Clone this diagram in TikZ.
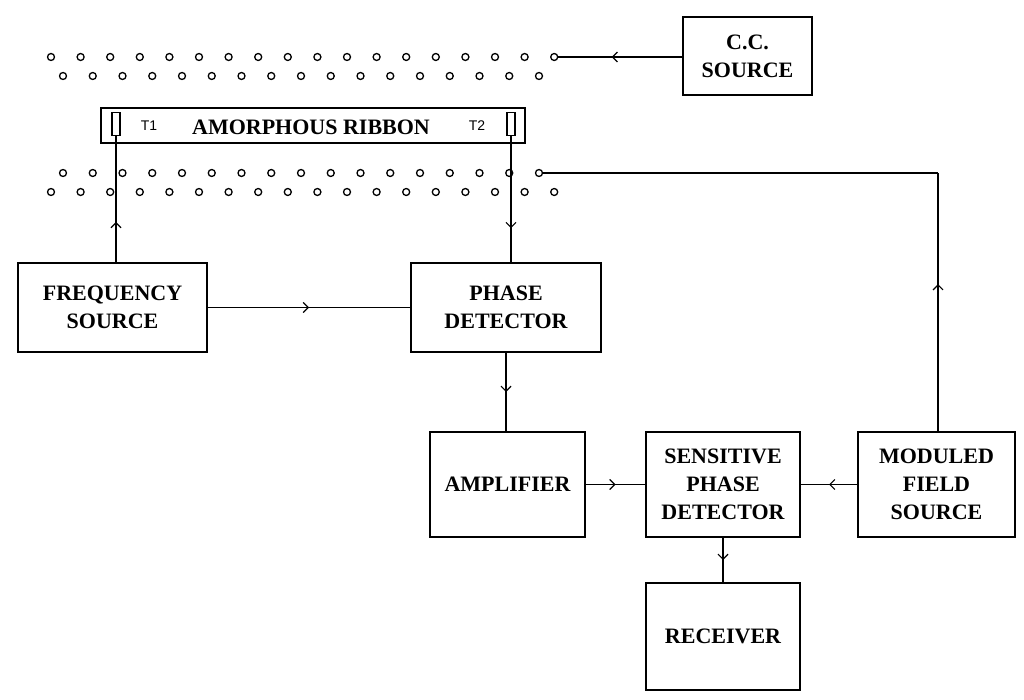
\documentclass[tikz,border=0pt]{standalone}
\usepackage{fontspec}
\setmainfont{Liberation Serif}
\newfontfamily\tfont{Liberation Sans}
\usetikzlibrary{arrows.meta,decorations.markings}

\begin{document}
\begin{tikzpicture}[x=1pt,y=-1pt,line width=1.5pt]
  \tikzstyle{blk}=[draw,minimum width=#1,align=center,font=\bfseries\fontsize{22}{28}\selectfont,inner sep=0pt]
  \tikzstyle{mid}=[postaction={decorate},decoration={markings,mark=at position #1 with {\arrow[line width=1.2pt]{Straight Barb[length=5pt,width=10pt]}}}]
  \tikzstyle{turn}=[draw,circle,inner sep=0pt,minimum size=7pt,line width=1.3pt]
  \useasboundingbox (0,0) rectangle (1024,700);

  % coil windings
  \foreach \i in {0,...,17} {\node[turn] (ua\i) at (51+29.6*\i,57) {};}
  \foreach \i in {0,...,16} {\node[turn] (ub\i) at (63+29.75*\i,76) {};}
  \foreach \i in {0,...,16} {\node[turn] (la\i) at (63+29.75*\i,173) {};}
  \foreach \i in {0,...,17} {\node[turn] (lb\i) at (51+29.6*\i,192) {};}

  % ribbon
  \node[draw,minimum width=424pt,minimum height=35pt,inner sep=0pt] (rib) at (313,125.5) {};
  \node[font=\bfseries\fontsize{22}{26}\selectfont] at (311,127) {AMORPHOUS RIBBON};
  \node[draw,minimum width=8pt,minimum height=23pt,inner sep=0pt] (t1) at (116,124) {};
  \node[draw,minimum width=8pt,minimum height=23pt,inner sep=0pt] (t2) at (511,124) {};
  \node[font=\tfont\fontsize{14}{16}\selectfont] at (149,126) {T1};
  \node[font=\tfont\fontsize{14}{16}\selectfont] at (477,126) {T2};

  % blocks
  \node[blk=129pt,minimum height=78pt] (cc)  at (747.5,56)  {C.C.\\SOURCE};
  \node[blk=189pt,minimum height=89pt] (fs)  at (112.5,307.5) {FREQUENCY\\SOURCE};
  \node[blk=190pt,minimum height=89pt] (pd)  at (506,307.5) {PHASE\\DETECTOR};
  \node[blk=155pt,minimum height=105pt] (amp) at (507.5,484.5) {AMPLIFIER};
  \node[blk=154pt,minimum height=105pt] (spd) at (723,484.5) {SENSITIVE\\PHASE\\DETECTOR};
  \node[blk=157pt,minimum height=105pt] (mfs) at (936.5,484.5) {MODULED\\FIELD\\SOURCE};
  \node[blk=154pt,minimum height=107pt] (rec) at (723,636.5) {RECEIVER};

  % connections
  \coordinate (k) at (938,173);
  \draw[mid=0.57] (cc.west |- ua17) -- (ua17.east);
  \draw[mid=0.57] (mfs.north -| k) -- (k);
  \draw (k) -- (la16.east);
  \draw[mid=0.32] (fs.north -| t1) -- (t1.south);
  \draw[mid=0.73] (t2.south) -- (pd.north -| t2);
  \draw[mid=0.5] (fs) -- (pd);
  \draw[mid=0.5] (pd.south) -- (amp.north -| pd.south);
  \draw[mid=0.5] (amp) -- (spd);
  \draw[mid=0.5] (mfs) -- (spd);
  \draw[mid=0.5] (spd) -- (rec);
\end{tikzpicture}
\end{document}
